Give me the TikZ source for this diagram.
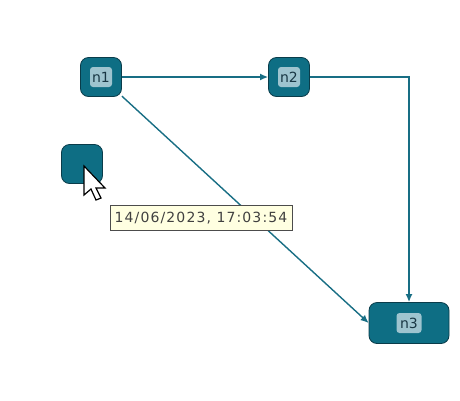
\documentclass[tikz,border=0pt]{standalone}
\usepackage{fontspec}
\setmainfont{DejaVu Sans}
\newfontfamily\tipfont[LetterSpace=8]{DejaVu Sans}
\usepackage{tikz}
\usetikzlibrary{arrows.meta}
\usetikzlibrary{positioning}
\definecolor{nodefill}{RGB}{14,110,132}
\definecolor{nodeedge}{RGB}{10,60,74}
\definecolor{labelfill}{RGB}{158,196,207}
\definecolor{labeltext}{RGB}{25,55,68}
\definecolor{edgecol}{RGB}{24,110,132}
\definecolor{tipfill}{RGB}{255,255,225}
\tikzset{
    graphnode/.style={draw=nodeedge, fill=nodefill, rounded corners=8pt,
        line width=0.8pt, minimum width=41pt, minimum height=39pt, inner sep=0pt},
    widenode/.style={graphnode, minimum width=80pt, minimum height=41pt},
    nodelabel/.style={fill=labelfill, rounded corners=3pt, text=labeltext,
        minimum width=22pt, minimum height=20pt, inner sep=0pt, font=\fontsize{14}{14}\selectfont},
    tooltip/.style={draw=black!70, fill=tipfill, text=black!75, line width=0.6pt,
        minimum width=182pt, minimum height=25pt, inner sep=0pt, font=\fontsize{14}{14}\tipfont},
}
\tikzstyle{line} = [draw=edgecol, line width=1.4pt, -{Latex[length=8pt,width=7pt]}]

\begin{document}
\begin{tikzpicture}[x=1pt, y=-1pt]
	\useasboundingbox (0,0) rectangle (460,400);
	\node[graphnode] (n1) at (101,77) {};
	\node[nodelabel] (n1label) at (n1) {n1};
	\node[graphnode] (n2) at (289,77) {};
	\node[nodelabel] (n2label) at (n2) {n2};
	\node[widenode] (n3) at (409,323) {};
	\node[nodelabel, minimum width=25pt] (n3label) at (n3) {n3};
	\node[graphnode] (n4) at (82,164) {};
	\path[line] (n1) -- (n2);
	\path[line] (n2) -| (n3);
	\path[line] (n1) -- (n3.west);
	% mouse pointer
	\draw[fill=white, line width=1.2pt, line join=miter]
		(84,166) -- (84,195) -- (91,189) -- (96,200) -- (101,198)
		-- (96,188) -- (105,188) -- cycle;
	\node[tooltip] (tip) at (201,218) {14/06/2023, 17:03:54};
\end{tikzpicture}
\end{document}
